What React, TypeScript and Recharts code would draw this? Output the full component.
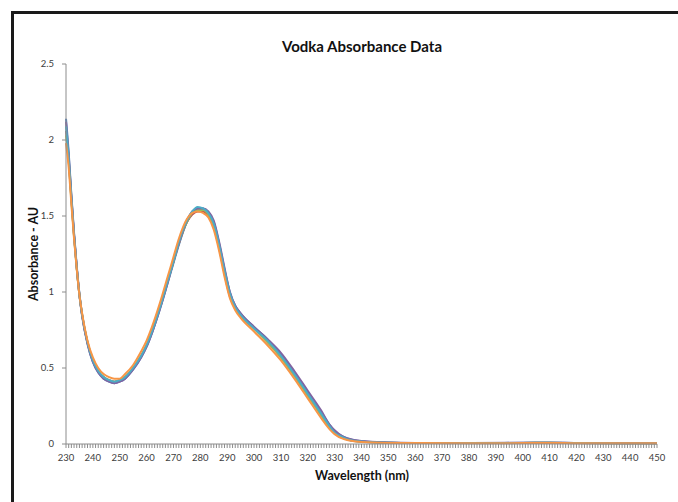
import React from "react";
import { LineChart, Line, XAxis, YAxis } from "recharts";

// wavelength (nm) sample points
const wavelengths = [
  230, 231, 232, 233, 234, 235, 236, 238, 240, 242, 244, 246, 248, 250, 252,
  255, 258, 260, 262, 265, 268, 270, 272, 275, 277, 279, 281, 283, 285, 287,
  289, 291, 293, 295, 300, 305, 310, 315, 320, 325, 328, 330, 333, 335, 340,
  350, 360, 380, 400, 410, 420, 450,
];

const sample1 = [
  2.14, 1.92, 1.64, 1.39, 1.17, 0.99, 0.85, 0.66, 0.54, 0.47, 0.43, 0.41, 0.4,
  0.41, 0.43, 0.49, 0.57, 0.64, 0.73, 0.89, 1.07, 1.19, 1.31, 1.46, 1.52, 1.55,
  1.55, 1.52, 1.46, 1.32, 1.15, 1.0, 0.91, 0.86, 0.77, 0.69, 0.59, 0.47, 0.34,
  0.21, 0.13, 0.085, 0.05, 0.035, 0.018, 0.009, 0.007, 0.006, 0.008, 0.009,
  0.007, 0.006,
];
const sample2 = [
  2.06, 1.87, 1.61, 1.37, 1.16, 0.98, 0.85, 0.67, 0.55, 0.48, 0.44, 0.42, 0.41,
  0.42, 0.44, 0.5, 0.58, 0.65, 0.74, 0.9, 1.08, 1.2, 1.32, 1.46, 1.51, 1.53,
  1.53, 1.5, 1.43, 1.29, 1.12, 0.97, 0.89, 0.84, 0.76, 0.67, 0.57, 0.45, 0.32,
  0.19, 0.11, 0.07, 0.04, 0.028, 0.015, 0.008, 0.006, 0.006, 0.007, 0.008,
  0.006, 0.005,
];
const sample3 = [
  2.03, 1.86, 1.6, 1.36, 1.15, 0.98, 0.85, 0.67, 0.55, 0.48, 0.44, 0.42, 0.41,
  0.42, 0.44, 0.5, 0.58, 0.65, 0.74, 0.9, 1.08, 1.2, 1.32, 1.46, 1.52, 1.54,
  1.54, 1.51, 1.44, 1.3, 1.13, 0.98, 0.9, 0.85, 0.76, 0.67, 0.57, 0.45, 0.32,
  0.19, 0.11, 0.07, 0.04, 0.028, 0.015, 0.008, 0.006, 0.006, 0.007, 0.008,
  0.006, 0.005,
];
const sample4 = [
  2.12, 1.9, 1.63, 1.38, 1.16, 0.98, 0.84, 0.66, 0.54, 0.47, 0.43, 0.41, 0.4,
  0.41, 0.43, 0.49, 0.57, 0.64, 0.73, 0.89, 1.07, 1.2, 1.32, 1.47, 1.53, 1.55,
  1.55, 1.53, 1.47, 1.33, 1.16, 1.0, 0.91, 0.86, 0.77, 0.69, 0.6, 0.48, 0.35,
  0.22, 0.13, 0.09, 0.05, 0.036, 0.019, 0.01, 0.007, 0.007, 0.008, 0.009,
  0.007, 0.006,
];
const sample5 = [
  2.09, 1.88, 1.62, 1.37, 1.16, 0.98, 0.85, 0.67, 0.55, 0.48, 0.44, 0.42, 0.41,
  0.42, 0.44, 0.5, 0.58, 0.65, 0.74, 0.9, 1.08, 1.2, 1.33, 1.47, 1.53, 1.56,
  1.55, 1.52, 1.45, 1.31, 1.14, 0.99, 0.9, 0.85, 0.76, 0.68, 0.58, 0.46, 0.33,
  0.2, 0.12, 0.075, 0.045, 0.03, 0.016, 0.008, 0.006, 0.006, 0.007, 0.008,
  0.006, 0.005,
];
const sample6 = [
  1.98, 1.82, 1.58, 1.35, 1.15, 0.98, 0.86, 0.68, 0.57, 0.5, 0.46, 0.44, 0.43,
  0.43, 0.46, 0.52, 0.61, 0.68, 0.77, 0.93, 1.11, 1.23, 1.35, 1.48, 1.52, 1.53,
  1.52, 1.49, 1.41, 1.27, 1.1, 0.96, 0.88, 0.83, 0.74, 0.65, 0.55, 0.43, 0.3,
  0.17, 0.1, 0.065, 0.035, 0.025, 0.013, 0.007, 0.006, 0.005, 0.006, 0.007,
  0.005, 0.005,
];

const xLabelTicks = [
  230, 240, 250, 260, 270, 280, 290, 300, 310, 320, 330, 340, 350, 360, 370,
  380, 390, 400, 410, 420, 430, 440, 450,
];
const yTicks = [0, 0.5, 1, 1.5, 2, 2.5];

const SERIES = [
  { key: "s1", values: sample1, color: "#4F81BD" },
  { key: "s2", values: sample2, color: "#C0504D" },
  { key: "s3", values: sample3, color: "#9BBB59" },
  { key: "s4", values: sample4, color: "#8064A2" },
  { key: "s5", values: sample5, color: "#4BACC6" },
  { key: "s6", values: sample6, color: "#F79646" },
];

const data = wavelengths.map((w, i) => {
  const row: Record<string, number> = { w };
  SERIES.forEach((s) => (row[s.key] = s.values[i]));
  return row;
});

// one minor tick per nm, labels only on the tens
const minorTicks: number[] = [];
for (let v = 230; v <= 450; v++) minorTicks.push(v);

const FONT = "Lato, 'Open Sans', sans-serif";
const AXIS_GREY = "#8c8c8c";

function XTick(props: any) {
  const { x, y, payload } = props;
  if (!xLabelTicks.includes(payload.value)) return null;
  return (
    <text x={x} y={y} dy="0.71em" textAnchor="middle" fontSize={9.5} fill="#404040" fontFamily={FONT}>
      {payload.value}
    </text>
  );
}

export default function App() {
  return (
    <div
      style={{
        position: "fixed",
        left: 0,
        top: 0,
        width: 678,
        height: 502,
        background: "#fff",
        overflow: "hidden",
        fontFamily: FONT,
      }}
    >
      <div
        style={{
          position: "absolute",
          left: 11,
          top: 11,
          width: 700,
          height: 600,
          borderTop: "3px solid #1a1a1a",
          borderLeft: "3px solid #1a1a1a",
        }}
      />
      <div
        style={{
          position: "absolute",
          left: 0,
          width: 724,
          top: 37,
          textAlign: "center",
          fontWeight: 700,
          fontSize: 15,
          color: "#111",
        }}
      >
        Vodka Absorbance Data
      </div>
      <div
        style={{
          position: "absolute",
          left: 0,
          width: 724,
          top: 468,
          textAlign: "center",
          fontWeight: 700,
          fontSize: 12.5,
          color: "#111",
        }}
      >
        Wavelength (nm)
      </div>
      <div
        style={{
          position: "absolute",
          left: 33,
          top: 254,
          transform: "translate(-50%, -50%) rotate(-90deg)",
          whiteSpace: "nowrap",
          fontWeight: 700,
          fontSize: 12.5,
          color: "#111",
        }}
      >
        Absorbance - AU
      </div>
      <div style={{ position: "absolute", left: 0, top: 0 }}>
        <LineChart
          width={678}
          height={502}
          data={data}
          margin={{ top: 64, right: 21, bottom: 28, left: 16 }}
        >
          <XAxis
            dataKey="w"
            type="number"
            domain={[230, 450]}
            ticks={minorTicks}
            interval={0}
            height={30}
            tickSize={4}
            tickMargin={6}
            tick={<XTick />}
            axisLine={{ stroke: AXIS_GREY }}
            tickLine={{ stroke: AXIS_GREY }}
          />
          <YAxis
            type="number"
            domain={[0, 2.5]}
            ticks={yTicks}
            width={50}
            tickSize={4}
            tickMargin={8}
            axisLine={{ stroke: AXIS_GREY }}
            tickLine={{ stroke: AXIS_GREY }}
            tick={{ fontSize: 9.5, fill: "#404040", fontFamily: FONT }}
          />
          {SERIES.map((s) => (
            <Line
              key={s.key}
              dataKey={s.key}
              type="monotone"
              stroke={s.color}
              strokeWidth={2}
              dot={false}
              isAnimationActive={false}
            />
          ))}
        </LineChart>
      </div>
    </div>
  );
}
